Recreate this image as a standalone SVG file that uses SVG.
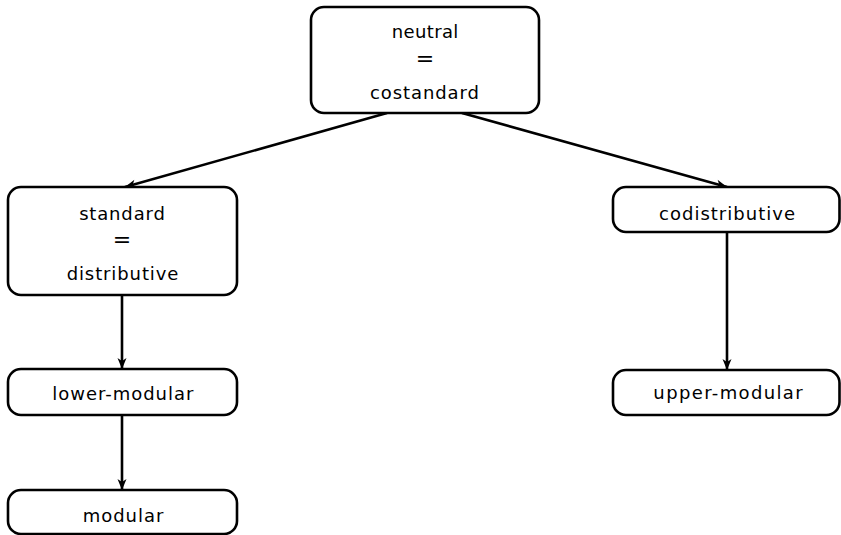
<svg xmlns="http://www.w3.org/2000/svg" width="841" height="535" viewBox="0 0 841 535">
<style>
.box{fill:#fff;stroke:#000;stroke-width:2.6}
.t{font-family:"DejaVu Sans",sans-serif;font-size:18px;fill:#000;text-anchor:middle}
.eq{font-family:"DejaVu Sans",sans-serif;font-size:22px;fill:#000;text-anchor:middle}
.edge{stroke:#000;stroke-width:2.6;fill:none;marker-end:url(#arr)}
</style>
<defs>
<marker id="arr" markerUnits="userSpaceOnUse" viewBox="-12 -6 14 12" refX="0" refY="0" markerWidth="14" markerHeight="12" orient="auto">
<path d="M0,0 L-11,-4.5 L-8,0 L-11,4.5 Z" fill="#000"/>
</marker>
</defs>
<g id="connectors">
<line class="edge" x1="387" y1="113" x2="125" y2="187"/>
<line class="edge" x1="462" y1="113" x2="727" y2="187"/>
<line class="edge" x1="122" y1="295" x2="122" y2="369"/>
<line class="edge" x1="122" y1="415" x2="122" y2="490"/>
<line class="edge" x1="727" y1="232" x2="727" y2="370"/>
</g>
<g id="neutral">
<rect class="box" x="311" y="7" width="228" height="106" rx="13"/>
<text class="t" x="425" y="38" textLength="66.7" lengthAdjust="spacing">neutral</text>
<text class="eq" x="425" y="65.5">=</text>
<text class="t" x="424.5" y="99" textLength="109" lengthAdjust="spacing">costandard</text>
</g>
<g id="standard">
<rect class="box" x="8" y="187" width="229" height="108" rx="13"/>
<text class="t" x="122" y="219.5" textLength="85.7" lengthAdjust="spacing">standard</text>
<text class="eq" x="122" y="246.5">=</text>
<text class="t" x="122.5" y="280" textLength="111.7" lengthAdjust="spacing">distributive</text>
</g>
<g id="codistributive">
<rect class="box" x="613" y="187" width="226.5" height="45" rx="13"/>
<text class="t" x="727" y="219.5" textLength="136" lengthAdjust="spacing">codistributive</text>
</g>
<g id="lower-modular">
<rect class="box" x="8" y="369" width="229" height="46" rx="13"/>
<text class="t" x="122.8" y="399.5" textLength="141" lengthAdjust="spacing">lower-modular</text>
</g>
<g id="modular">
<rect class="box" x="8" y="490" width="229" height="44" rx="13"/>
<text class="t" x="123" y="521.5" textLength="80.7" lengthAdjust="spacing">modular</text>
</g>
<g id="upper-modular">
<rect class="box" x="613" y="370" width="226.5" height="45" rx="13"/>
<text class="t" x="728" y="398.5" textLength="149.3" lengthAdjust="spacing">upper-modular</text>
</g>
</svg>
